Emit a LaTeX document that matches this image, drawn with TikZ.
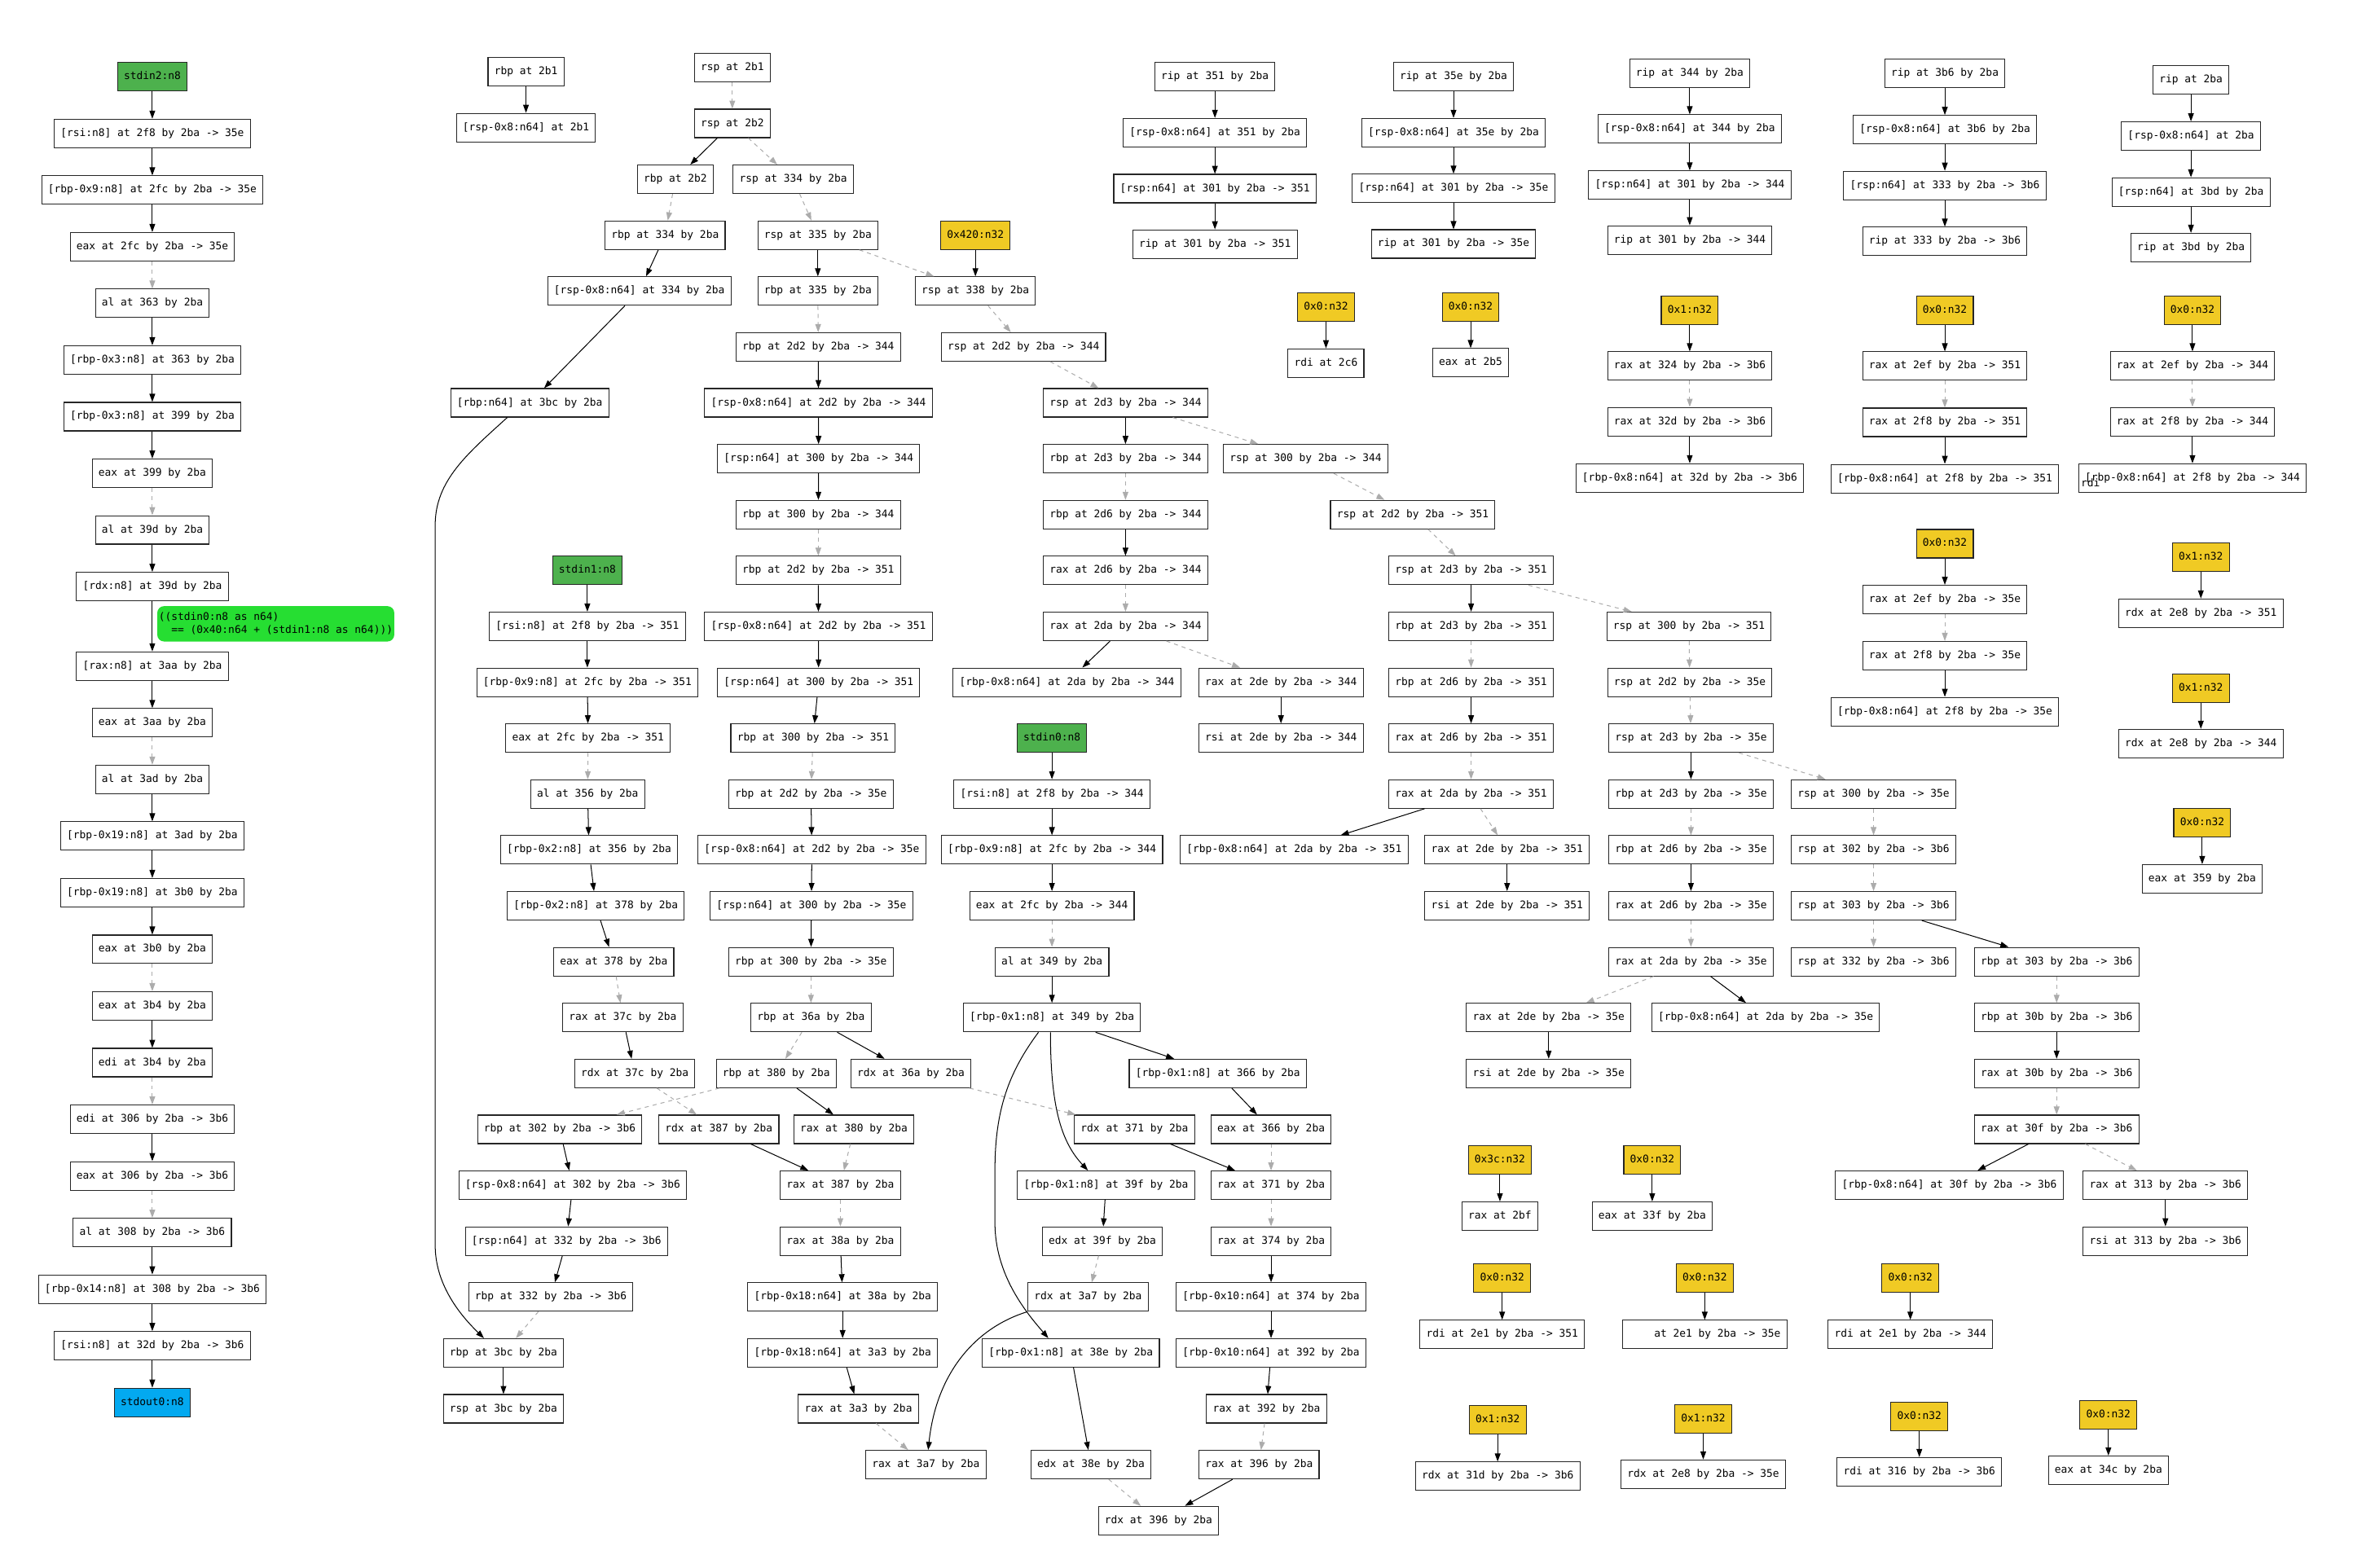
\documentclass[tikz,border=0pt]{standalone}
\usepackage{fontspec}
\newfontfamily\gvmono{DejaVu Sans Mono}
\usetikzlibrary{arrows.meta}
\definecolor{cyel}{RGB}{240,202,36}
\definecolor{cgrn}{RGB}{77,177,77}
\definecolor{cblu}{RGB}{3,169,240}
\definecolor{clab}{RGB}{38,222,50}
\definecolor{cdash}{RGB}{172,172,172}
\begin{document}
\begin{tikzpicture}[x=1pt,y=-1pt,
  box/.style={draw=black!85,line width=0.6pt,fill=white,font=\gvmono\fontsize{7}{8.7}\selectfont,
    inner xsep=4.2pt,inner ysep=0pt,minimum height=19pt,text height=5.3pt,text depth=1.5pt},
  yel/.style={box,fill=cyel},
  grn/.style={box,fill=cgrn},
  blu/.style={box,fill=cblu},
  lab/.style={fill=clab,rounded corners=4.5pt,font=\gvmono\fontsize{7}{8.7}\selectfont,
    inner xsep=1pt,inner ysep=4.3pt,align=left},
  sol/.style={-{Triangle[length=5.4pt,width=3.8pt]},line width=0.55pt,black},
  dsh/.style={-{Triangle[length=5.4pt,width=3.8pt]},line width=0.55pt,cdash,dash pattern=on 2.7pt off 2.7pt},
]
\useasboundingbox (0,0) rectangle (1568,1045);
\fill[white] (0,0) rectangle (1568,1045);

% ---------------- column 1 ----------------
\node[grn] (c1a) at (101.5,51.2) {stdin2:n8};
\node[box] (c1b) at (101.5,88.95) {[rsi:n8] at 2f8 by 2ba -> 35e};
\node[box] (c1c) at (101.5,126.7) {[rbp-0x9:n8] at 2fc by 2ba -> 35e};
\node[box] (c1d) at (101.5,164.45) {eax at 2fc by 2ba -> 35e};
\node[box] (c1e) at (101.5,202.2) {al at 363 by 2ba};
\node[box] (c1f) at (101.5,239.95) {[rbp-0x3:n8] at 363 by 2ba};
\node[box] (c1g) at (101.5,277.7) {[rbp-0x3:n8] at 399 by 2ba};
\node[box] (c1h) at (101.5,315.45) {eax at 399 by 2ba};
\node[box] (c1i) at (101.5,353.2) {al at 39d by 2ba};
\node[box] (c1j) at (101.5,390.95) {[rdx:n8] at 39d by 2ba};
\node[box] (c1k) at (101.5,444) {[rax:n8] at 3aa by 2ba};
\node[box] (c1l) at (101.5,481.75) {eax at 3aa by 2ba};
\node[box] (c1m) at (101.5,519.5) {al at 3ad by 2ba};
\node[box] (c1n) at (101.5,557.25) {[rbp-0x19:n8] at 3ad by 2ba};
\node[box] (c1o) at (101.5,595) {[rbp-0x19:n8] at 3b0 by 2ba};
\node[box] (c1p) at (101.5,632.75) {eax at 3b0 by 2ba};
\node[box] (c1q) at (101.5,670.5) {eax at 3b4 by 2ba};
\node[box] (c1r) at (101.5,708.25) {edi at 3b4 by 2ba};
\node[box] (c1s) at (101.5,746) {edi at 306 by 2ba -> 3b6};
\node[box] (c1t) at (101.5,783.75) {eax at 306 by 2ba -> 3b6};
\node[box] (c1u) at (101.5,821.5) {al at 308 by 2ba -> 3b6};
\node[box] (c1v) at (101.5,859.25) {[rbp-0x14:n8] at 308 by 2ba -> 3b6};
\node[box] (c1w) at (101.5,897) {[rsi:n8] at 32d by 2ba -> 3b6};
\node[blu] (c1x) at (101.5,934.75) {stdout0:n8};
\node[lab,anchor=west] (lbl) at (104.6,415.8) {((stdin0:n8 as n64)\\\phantom{((}== (0x40:n64 + (stdin1:n8 as n64)))};

\draw[sol] (c1a) -- (c1b);
\draw[sol] (c1b) -- (c1c);
\draw[sol] (c1c) -- (c1d);
\draw[dsh] (c1d) -- (c1e);
\draw[sol] (c1e) -- (c1f);
\draw[sol] (c1f) -- (c1g);
\draw[sol] (c1g) -- (c1h);
\draw[dsh] (c1h) -- (c1i);
\draw[sol] (c1i) -- (c1j);
\draw[sol] (c1j) -- (c1k);
\draw[sol] (c1k) -- (c1l);
\draw[dsh] (c1l) -- (c1m);
\draw[sol] (c1m) -- (c1n);
\draw[sol] (c1n) -- (c1o);
\draw[sol] (c1o) -- (c1p);
\draw[dsh] (c1p) -- (c1q);
\draw[sol] (c1q) -- (c1r);
\draw[dsh] (c1r) -- (c1s);
\draw[sol] (c1s) -- (c1t);
\draw[dsh] (c1t) -- (c1u);
\draw[sol] (c1u) -- (c1v);
\draw[sol] (c1v) -- (c1w);
\draw[sol] (c1w) -- (c1x);

% ---------------- rbp at 2b1 ----------------
\node[box] (rbp2b1) at (350.5,47.8) {rbp at 2b1};
\node[box] (m2b1) at (350.5,85) {[rsp-0x8:n64] at 2b1};
\draw[sol] (rbp2b1) -- (m2b1);

% ---------------- big component ----------------
\node[box] (rsp2b1) at (488,45) {rsp at 2b1};
\node[box] (rsp2b2) at (488,82.25) {rsp at 2b2};
\node[box] (rbp2b2) at (450,119.5) {rbp at 2b2};
\node[box] (rsp334) at (528.6,119.5) {rsp at 334 by 2ba};
\node[box] (rbp334) at (443.2,156.75) {rbp at 334 by 2ba};
\node[box] (rsp335) at (545,156.75) {rsp at 335 by 2ba};
\node[yel] (k420) at (650,156.75) {0x420:n32};
\node[box] (m334) at (426,194) {[rsp-0x8:n64] at 334 by 2ba};
\node[box] (rbp335) at (545,194) {rbp at 335 by 2ba};
\node[box] (rsp338) at (650,194) {rsp at 338 by 2ba};
\node[box] (rbp2d2a) at (545.3,231.25) {rbp at 2d2 by 2ba -> 344};
\node[box] (rsp2d2a) at (682,231.25) {rsp at 2d2 by 2ba -> 344};
\node[box] (rbpm3bc) at (353,268.5) {[rbp:n64] at 3bc by 2ba};
\node[box] (m2d2a) at (545.4,268.5) {[rsp-0x8:n64] at 2d2 by 2ba -> 344};
\node[box] (rsp2d3a) at (750,268.5) {rsp at 2d3 by 2ba -> 344};
\node[box] (ms300a) at (545.5,305.75) {[rsp:n64] at 300 by 2ba -> 344};
\node[box] (rbp2d3a) at (750,305.75) {rbp at 2d3 by 2ba -> 344};
\node[box] (rsp300a) at (870,305.75) {rsp at 300 by 2ba -> 344};
\node[box] (rbp300a) at (545.3,343) {rbp at 300 by 2ba -> 344};
\node[box] (rbp2d6a) at (750,343) {rbp at 2d6 by 2ba -> 344};
\node[box] (rsp2d2b) at (941.4,343) {rsp at 2d2 by 2ba -> 351};
\node[box] (rbp2d2b) at (545.3,380.25) {rbp at 2d2 by 2ba -> 351};
\node[box] (rax2d6a) at (750,380.25) {rax at 2d6 by 2ba -> 344};
\node[box] (rsp2d3b) at (980.3,380.25) {rsp at 2d3 by 2ba -> 351};
\node[grn] (stdin1) at (391.4,380.25) {stdin1:n8};
\node[box] (m2d2b) at (545.4,417.5) {[rsp-0x8:n64] at 2d2 by 2ba -> 351};
\node[box] (rax2daa) at (750,417.5) {rax at 2da by 2ba -> 344};
\node[box] (rsi351) at (391.4,417.5) {[rsi:n8] at 2f8 by 2ba -> 351};
\node[box] (rbp2d3b) at (980.3,417.5) {rbp at 2d3 by 2ba -> 351};
\node[box] (rsp300b) at (1125.5,417.5) {rsp at 300 by 2ba -> 351};
\node[box] (ms300b) at (545.5,454.75) {[rsp:n64] at 300 by 2ba -> 351};
\node[box] (m2daa) at (711,454.75) {[rbp-0x8:n64] at 2da by 2ba -> 344};
\node[box] (rax2dea) at (853.6,454.75) {rax at 2de by 2ba -> 344};
\node[box] (r9351) at (391.4,454.75) {[rbp-0x9:n8] at 2fc by 2ba -> 351};
\node[box] (rbp2d6b) at (980.3,454.75) {rbp at 2d6 by 2ba -> 351};
\node[box] (rsp2d2c) at (1126,454.75) {rsp at 2d2 by 2ba -> 35e};
\node[box] (rbp300b) at (541.8,492) {rbp at 300 by 2ba -> 351};
\node[box] (eax351) at (391.9,492) {eax at 2fc by 2ba -> 351};
\node[grn] (stdin0) at (701,492) {stdin0:n8};
\node[box] (rsi2dea) at (853.6,492) {rsi at 2de by 2ba -> 344};
\node[box] (rax2d6b) at (980.3,492) {rax at 2d6 by 2ba -> 351};
\node[box] (rsp2d3c) at (1126.8,492) {rsp at 2d3 by 2ba -> 35e};
\node[box] (al356) at (391.6,529.25) {al at 356 by 2ba};
\node[box] (rbp2d2c) at (540.4,529.25) {rbp at 2d2 by 2ba -> 35e};
\node[box] (rsi344) at (701,529.25) {[rsi:n8] at 2f8 by 2ba -> 344};
\node[box] (rax2dab) at (980.3,529.25) {rax at 2da by 2ba -> 351};
\node[box] (rbp2d3c) at (1126.8,529.25) {rbp at 2d3 by 2ba -> 35e};
\node[box] (rsp300c) at (1248.5,529.25) {rsp at 300 by 2ba -> 35e};
\node[box] (r2356) at (392.5,566.5) {[rbp-0x2:n8] at 356 by 2ba};
\node[box] (m2d2c) at (541,566.5) {[rsp-0x8:n64] at 2d2 by 2ba -> 35e};
\node[box] (r9344) at (701,566.5) {[rbp-0x9:n8] at 2fc by 2ba -> 344};
\node[box] (m2dab) at (862.4,566.5) {[rbp-0x8:n64] at 2da by 2ba -> 351};
\node[box] (rax2deb) at (1004.3,566.5) {rax at 2de by 2ba -> 351};
\node[box] (rbp2d6c) at (1126.8,566.5) {rbp at 2d6 by 2ba -> 35e};
\node[box] (rsp302) at (1248.5,566.5) {rsp at 302 by 2ba -> 3b6};
\node[box] (r2378) at (397,603.75) {[rbp-0x2:n8] at 378 by 2ba};
\node[box] (ms300c) at (540.7,603.75) {[rsp:n64] at 300 by 2ba -> 35e};
\node[box] (eax344) at (701,603.75) {eax at 2fc by 2ba -> 344};
\node[box] (rsi2deb) at (1004.3,603.75) {rsi at 2de by 2ba -> 351};
\node[box] (rax2d6c) at (1126.8,603.75) {rax at 2d6 by 2ba -> 35e};
\node[box] (rsp303) at (1248.5,603.75) {rsp at 303 by 2ba -> 3b6};
\node[box] (eax378) at (409,641) {eax at 378 by 2ba};
\node[box] (rbp300c) at (540.4,641) {rbp at 300 by 2ba -> 35e};
\node[box] (al349) at (701,641) {al at 349 by 2ba};
\node[box] (rax2dac) at (1126.8,641) {rax at 2da by 2ba -> 35e};
\node[box] (rsp332) at (1248.5,641) {rsp at 332 by 2ba -> 3b6};
\node[box] (rbp303) at (1370.5,641) {rbp at 303 by 2ba -> 3b6};
\node[box] (rax37c) at (415,678.25) {rax at 37c by 2ba};
\node[box] (rbp36a) at (540.4,678.25) {rbp at 36a by 2ba};
\node[box] (r1349) at (701,678.25) {[rbp-0x1:n8] at 349 by 2ba};
\node[box] (rax2dec) at (1032,678.25) {rax at 2de by 2ba -> 35e};
\node[box] (m2dac) at (1176.6,678.25) {[rbp-0x8:n64] at 2da by 2ba -> 35e};
\node[box] (rbp30b) at (1370.5,678.25) {rbp at 30b by 2ba -> 3b6};
\node[box] (rdx37c) at (423,715.5) {rdx at 37c by 2ba};
\node[box] (rbp380) at (517.3,715.5) {rbp at 380 by 2ba};
\node[box] (rdx36a) at (607,715.5) {rdx at 36a by 2ba};
\node[box] (r1366) at (811.5,715.5) {[rbp-0x1:n8] at 366 by 2ba};
\node[box] (rsi2dec) at (1032,715.5) {rsi at 2de by 2ba -> 35e};
\node[box] (rax30b) at (1370.5,715.5) {rax at 30b by 2ba -> 3b6};
\node[box] (rbp302) at (373,752.75) {rbp at 302 by 2ba -> 3b6};
\node[box] (rdx387) at (479,752.75) {rdx at 387 by 2ba};
\node[box] (rax380) at (569,752.75) {rax at 380 by 2ba};
\node[box] (rdx371) at (756,752.75) {rdx at 371 by 2ba};
\node[box] (eax366) at (847,752.75) {eax at 366 by 2ba};
\node[box] (rax30f) at (1370.5,752.75) {rax at 30f by 2ba -> 3b6};
\node[box] (m302) at (381.6,790) {[rsp-0x8:n64] at 302 by 2ba -> 3b6};
\node[box] (rax387) at (560,790) {rax at 387 by 2ba};
\node[box] (r139f) at (737,790) {[rbp-0x1:n8] at 39f by 2ba};
\node[box] (rax371) at (847,790) {rax at 371 by 2ba};
\node[box] (m30f) at (1299,790) {[rbp-0x8:n64] at 30f by 2ba -> 3b6};
\node[box] (rax313) at (1443,790) {rax at 313 by 2ba -> 3b6};
\node[box] (ms332) at (377.5,827.25) {[rsp:n64] at 332 by 2ba -> 3b6};
\node[box] (rax38a) at (560,827.25) {rax at 38a by 2ba};
\node[box] (edx39f) at (734.6,827.25) {edx at 39f by 2ba};
\node[box] (rax374) at (847,827.25) {rax at 374 by 2ba};
\node[box] (rsi313) at (1443,827.25) {rsi at 313 by 2ba -> 3b6};
\node[box] (rbp332) at (367,864.5) {rbp at 332 by 2ba -> 3b6};
\node[box] (m38a) at (561.5,864.5) {[rbp-0x18:n64] at 38a by 2ba};
\node[box] (rdx3a7) at (725,864.5) {rdx at 3a7 by 2ba};
\node[box] (r10374) at (847,864.5) {[rbp-0x10:n64] at 374 by 2ba};
\node[box] (rbp3bc) at (335.5,901.75) {rbp at 3bc by 2ba};
\node[box] (m3a3) at (561.5,901.75) {[rbp-0x18:n64] at 3a3 by 2ba};
\node[box] (r138e) at (713.6,901.75) {[rbp-0x1:n8] at 38e by 2ba};
\node[box] (r10392) at (847,901.75) {[rbp-0x10:n64] at 392 by 2ba};
\node[box] (rsp3bc) at (335.5,939) {rsp at 3bc by 2ba};
\node[box] (rax3a3) at (572,939) {rax at 3a3 by 2ba};
\node[box] (rax392) at (844,939) {rax at 392 by 2ba};
\node[box] (rax3a7) at (617,976.25) {rax at 3a7 by 2ba};
\node[box] (edx38e) at (727,976.25) {edx at 38e by 2ba};
\node[box] (rax396) at (839,976.25) {rax at 396 by 2ba};
\node[box] (rdx396) at (772,1013.5) {rdx at 396 by 2ba};

\draw[dsh] (rsp2b1) -- (rsp2b2);
\draw[sol] (rsp2b2) -- (rbp2b2);
\draw[dsh] (rsp2b2) -- (rsp334);
\draw[dsh] (rbp2b2) -- (rbp334);
\draw[dsh] (rsp334) -- (rsp335);
\draw[sol] (rbp334) -- (m334);
\draw[sol] (rsp335) -- (rbp335);
\draw[dsh] (rsp335) -- (rsp338);
\draw[sol] (k420) -- (rsp338);
\draw[sol] (m334) -- (rbpm3bc);
\draw[dsh] (rbp335) -- (rbp2d2a);
\draw[dsh] (rsp338) -- (rsp2d2a);
\draw[sol] (rbp2d2a) -- (m2d2a);
\draw[dsh] (rsp2d2a) -- (rsp2d3a);
\draw[sol] (m2d2a) -- (ms300a);
\draw[sol] (rsp2d3a) -- (rbp2d3a);
\draw[dsh] (rsp2d3a) -- (rsp300a);
\draw[sol] (ms300a) -- (rbp300a);
\draw[dsh] (rbp2d3a) -- (rbp2d6a);
\draw[dsh] (rsp300a) -- (rsp2d2b);
\draw[dsh] (rbp300a) -- (rbp2d2b);
\draw[sol] (rbp2d6a) -- (rax2d6a);
\draw[dsh] (rsp2d2b) -- (rsp2d3b);
\draw[sol] (rbp2d2b) -- (m2d2b);
\draw[dsh] (rax2d6a) -- (rax2daa);
\draw[sol] (rsp2d3b) -- (rbp2d3b);
\draw[dsh] (rsp2d3b) -- (rsp300b);
\draw[sol] (m2d2b) -- (ms300b);
\draw[sol] (rax2daa) -- (m2daa);
\draw[dsh] (rax2daa) -- (rax2dea);
\draw[dsh] (rbp2d3b) -- (rbp2d6b);
\draw[dsh] (rsp300b) -- (rsp2d2c);
\draw[sol] (ms300b) -- (rbp300b);
\draw[sol] (rax2dea) -- (rsi2dea);
\draw[sol] (rbp2d6b) -- (rax2d6b);
\draw[dsh] (rsp2d2c) -- (rsp2d3c);
\draw[dsh] (rbp300b) -- (rbp2d2c);
\draw[dsh] (rax2d6b) -- (rax2dab);
\draw[sol] (rsp2d3c) -- (rbp2d3c);
\draw[dsh] (rsp2d3c) -- (rsp300c);
\draw[sol] (rbp2d2c) -- (m2d2c);
\draw[sol] (rax2dab) -- (m2dab);
\draw[dsh] (rax2dab) -- (rax2deb);
\draw[dsh] (rbp2d3c) -- (rbp2d6c);
\draw[dsh] (rsp300c) -- (rsp302);
\draw[sol] (m2d2c) -- (ms300c);
\draw[sol] (rax2deb) -- (rsi2deb);
\draw[sol] (rbp2d6c) -- (rax2d6c);
\draw[dsh] (rsp302) -- (rsp303);
\draw[sol] (ms300c) -- (rbp300c);
\draw[dsh] (rax2d6c) -- (rax2dac);
\draw[dsh] (rsp303) -- (rsp332);
\draw[sol] (rsp303) -- (rbp303);
\draw[dsh] (rbp300c) -- (rbp36a);
\draw[dsh] (rax2dac) -- (rax2dec);
\draw[sol] (rax2dac) -- (m2dac);
\draw[dsh] (rbp303) -- (rbp30b);
\draw[dsh] (rbp36a) -- (rbp380);
\draw[sol] (rbp36a) -- (rdx36a);
\draw[sol] (rax2dec) -- (rsi2dec);
\draw[sol] (rbp30b) -- (rax30b);
\draw[dsh] (rbp380) -- (rbp302);
\draw[sol] (rbp380) -- (rax380);
\draw[dsh] (rax30b) -- (rax30f);
\draw[dsh] (rdx36a) -- (rdx371);
\draw[sol] (rax30f) -- (m30f);
\draw[dsh] (rax30f) -- (rax313);
\draw[sol] (rbp302) -- (m302);
\draw[dsh] (rax380) -- (rax387);
\draw[sol] (rdx387) -- (rax387);
\draw[dsh] (rdx37c) -- (rdx387);
\draw[sol] (rax313) -- (rsi313);
\draw[sol] (m302) -- (ms332);
\draw[dsh] (rax387) -- (rax38a);
\draw[sol] (ms332) -- (rbp332);
\draw[sol] (rax38a) -- (m38a);
\draw[dsh] (rbp332) -- (rbp3bc);
\draw[sol] (m38a) -- (m3a3);
\draw[sol] (rbp3bc) -- (rsp3bc);
\draw[sol] (m3a3) -- (rax3a3);
\draw[dsh] (rax3a3) -- (rax3a7);
\draw[sol] (rdx3a7.south west) .. controls (650,885) and (624,915) .. ([xshift=1.5pt]rax3a7.north);
\draw[sol] ([xshift=-15pt]rbpm3bc.south) .. controls (312,302) and (290,320) .. (290,350) -- (290,830) .. controls (290,855) and (305,875) .. ([xshift=-13pt]rbp3bc.north);

% stdin1 chain
\draw[sol] (stdin1) -- (rsi351);
\draw[sol] (rsi351) -- (r9351);
\draw[sol] (r9351) -- (eax351);
\draw[dsh] (eax351) -- (al356);
\draw[sol] (al356) -- (r2356);
\draw[sol] (r2356) -- (r2378);
\draw[sol] (r2378) -- (eax378);
\draw[dsh] (eax378) -- (rax37c);
\draw[sol] (rax37c) -- (rdx37c);

% stdin0 chain
\draw[sol] (stdin0) -- (rsi344);
\draw[sol] (rsi344) -- (r9344);
\draw[sol] (r9344) -- (eax344);
\draw[dsh] (eax344) -- (al349);
\draw[sol] (al349) -- (r1349);
\draw[sol] (r1349) -- (r1366);
\draw[sol] ([xshift=-1pt]r1349.south) .. controls (700,740) and (708,762) .. ([xshift=-12pt]r139f.north);
\draw[sol] ([xshift=-9pt]r1349.south) .. controls (672,715) and (663,740) .. (663,780) -- (663,815) .. controls (663,850) and (684,875) .. ([xshift=-15pt]r138e.north);
\draw[sol] (r1366) -- (eax366);
\draw[dsh] (eax366) -- (rax371);
\draw[sol] (rdx371) -- (rax371);
\draw[dsh] (rax371) -- (rax374);
\draw[sol] (rax374) -- (r10374);
\draw[sol] (r10374) -- (r10392);
\draw[sol] (r10392) -- (rax392);
\draw[dsh] (rax392) -- (rax396);
\draw[sol] (rax396) -- (rdx396);
\draw[sol] (r139f) -- (edx39f);
\draw[dsh] (edx39f) -- (rdx3a7);
\draw[sol] (r138e) -- (edx38e);
\draw[dsh] (edx38e) -- (rdx396);

% ---------------- rip chains ----------------
\node[box] (rip351) at (809.6,51.2) {rip at 351 by 2ba};
\node[box] (m351) at (809.6,88.4) {[rsp-0x8:n64] at 351 by 2ba};
\node[box] (ms301a) at (809.6,125.7) {[rsp:n64] at 301 by 2ba -> 351};
\node[box] (rip301a) at (809.6,162.7) {rip at 301 by 2ba -> 351};
\draw[sol] (rip351) -- (m351);
\draw[sol] (m351) -- (ms301a);
\draw[sol] (ms301a) -- (rip301a);

\node[box] (rip35e) at (968.6,51.2) {rip at 35e by 2ba};
\node[box] (m35e) at (968.6,88.4) {[rsp-0x8:n64] at 35e by 2ba};
\node[box] (ms301b) at (968.6,125.6) {[rsp:n64] at 301 by 2ba -> 35e};
\node[box] (rip301b) at (968.6,162.6) {rip at 301 by 2ba -> 35e};
\draw[sol] (rip35e) -- (m35e);
\draw[sol] (m35e) -- (ms301b);
\draw[sol] (ms301b) -- (rip301b);

\node[box] (rip344) at (1126,48.7) {rip at 344 by 2ba};
\node[box] (m344) at (1126,86) {[rsp-0x8:n64] at 344 by 2ba};
\node[box] (ms301c) at (1126,123.4) {[rsp:n64] at 301 by 2ba -> 344};
\node[box] (rip301c) at (1126,160) {rip at 301 by 2ba -> 344};
\draw[sol] (rip344) -- (m344);
\draw[sol] (m344) -- (ms301c);
\draw[sol] (ms301c) -- (rip301c);

\node[box] (rip3b6) at (1296,48.9) {rip at 3b6 by 2ba};
\node[box] (m3b6) at (1296,86.4) {[rsp-0x8:n64] at 3b6 by 2ba};
\node[box] (ms333) at (1296,123.6) {[rsp:n64] at 333 by 2ba -> 3b6};
\node[box] (rip333) at (1296,160.9) {rip at 333 by 2ba -> 3b6};
\draw[sol] (rip3b6) -- (m3b6);
\draw[sol] (m3b6) -- (ms333);
\draw[sol] (ms333) -- (rip333);

\node[box] (rip2ba) at (1460,53.2) {rip at 2ba};
\node[box] (m2ba) at (1460,90.7) {[rsp-0x8:n64] at 2ba};
\node[box] (ms3bd) at (1460,128) {[rsp:n64] at 3bd by 2ba};
\node[box] (rip3bd) at (1460,165) {rip at 3bd by 2ba};
\draw[sol] (rip2ba) -- (m2ba);
\draw[sol] (m2ba) -- (ms3bd);
\draw[sol] (ms3bd) -- (rip3bd);

% ---------------- constants ----------------
\node[yel] (k0a) at (883.6,204.8) {0x0:n32};
\node[box] (rdi2c6) at (883.6,242) {rdi at 2c6};
\draw[sol] (k0a) -- (rdi2c6);
\node[yel] (k0b) at (980,204.5) {0x0:n32};
\node[box] (eax2b5) at (980,241.8) {eax at 2b5};
\draw[sol] (k0b) -- (eax2b5);

\node[yel] (k1a) at (1126,206.8) {0x1:n32};
\node[box] (rax324) at (1126,244) {rax at 324 by 2ba -> 3b6};
\node[box] (rax32d) at (1126,281) {rax at 32d by 2ba -> 3b6};
\node[box] (m32d) at (1126,318.6) {[rbp-0x8:n64] at 32d by 2ba -> 3b6};
\draw[sol] (k1a) -- (rax324);
\draw[dsh] (rax324) -- (rax32d);
\draw[sol] (rax32d) -- (m32d);

\node[yel] (k0c) at (1296,207) {0x0:n32};
\node[box] (rax2efa) at (1296,244) {rax at 2ef by 2ba -> 351};
\node[box] (rax2f8a) at (1296,281.5) {rax at 2f8 by 2ba -> 351};
\node[box] (m2f8a) at (1296,319) {[rbp-0x8:n64] at 2f8 by 2ba -> 351};
\draw[sol] (k0c) -- (rax2efa);
\draw[dsh] (rax2efa) -- (rax2f8a);
\draw[sol] (rax2f8a) -- (m2f8a);

\node[yel] (k0d) at (1461,206.8) {0x0:n32};
\node[box] (rax2efb) at (1461,244) {rax at 2ef by 2ba -> 344};
\node[box] (rax2f8b) at (1461,281) {rax at 2f8 by 2ba -> 344};
\node[box] (m2f8b) at (1461,318.6) {[rbp-0x8:n64] at 2f8 by 2ba -> 344};
\node[font=\gvmono\fontsize{7}{8.7}\selectfont,inner sep=0pt] (strayrdi) at (1393,321.8) {rdi};
\draw[sol] (k0d) -- (rax2efb);
\draw[dsh] (rax2efb) -- (rax2f8b);
\draw[sol] (rax2f8b) -- (m2f8b);

\node[yel] (k0e) at (1296,362.4) {0x0:n32};
\node[box] (rax2efc) at (1296,399.6) {rax at 2ef by 2ba -> 35e};
\node[box] (rax2f8c) at (1296,437) {rax at 2f8 by 2ba -> 35e};
\node[box] (m2f8c) at (1296,474.3) {[rbp-0x8:n64] at 2f8 by 2ba -> 35e};
\draw[sol] (k0e) -- (rax2efc);
\draw[dsh] (rax2efc) -- (rax2f8c);
\draw[sol] (rax2f8c) -- (m2f8c);

\node[yel] (k1b) at (1466.6,371.5) {0x1:n32};
\node[box] (rdx2e8a) at (1466.6,408.7) {rdx at 2e8 by 2ba -> 351};
\draw[sol] (k1b) -- (rdx2e8a);
\node[yel] (k1c) at (1466.6,458.8) {0x1:n32};
\node[box] (rdx2e8b) at (1466.6,495.6) {rdx at 2e8 by 2ba -> 344};
\draw[sol] (k1c) -- (rdx2e8b);
\node[yel] (k0f) at (1467.5,548.4) {0x0:n32};
\node[box] (eax359) at (1467.5,585.8) {eax at 359 by 2ba};
\draw[sol] (k0f) -- (eax359);

\node[yel] (k3c) at (999.5,773.3) {0x3c:n32};
\node[box] (rax2bf) at (999.5,810.6) {rax at 2bf};
\draw[sol] (k3c) -- (rax2bf);
\node[yel] (k0g) at (1101,773.3) {0x0:n32};
\node[box] (eax33f) at (1101,810.6) {eax at 33f by 2ba};
\draw[sol] (k0g) -- (eax33f);

\node[yel] (k0h) at (1001,852) {0x0:n32};
\node[box] (rdi2e1a) at (1001,889.5) {rdi at 2e1 by 2ba -> 351};
\draw[sol] (k0h) -- (rdi2e1a);
\node[yel] (k0i) at (1136,852) {0x0:n32};
\node[box] (at2e1) at (1136,889.5) {\phantom{rdi} at 2e1 by 2ba -> 35e};
\draw[sol] (k0i) -- (at2e1);
\node[yel] (k0j) at (1273,852) {0x0:n32};
\node[box] (rdi2e1b) at (1273,889.5) {rdi at 2e1 by 2ba -> 344};
\draw[sol] (k0j) -- (rdi2e1b);

\node[yel] (k1d) at (998,946.5) {0x1:n32};
\node[box] (rdx31d) at (998,984) {rdx at 31d by 2ba -> 3b6};
\draw[sol] (k1d) -- (rdx31d);
\node[yel] (k1e) at (1135,946) {0x1:n32};
\node[box] (rdx2e8c) at (1135,982.6) {rdx at 2e8 by 2ba -> 35e};
\draw[sol] (k1e) -- (rdx2e8c);
\node[yel] (k0k) at (1279,944.2) {0x0:n32};
\node[box] (rdi316) at (1279,981) {rdi at 316 by 2ba -> 3b6};
\draw[sol] (k0k) -- (rdi316);
\node[yel] (k0l) at (1405,943) {0x0:n32};
\node[box] (eax34c) at (1405,980) {eax at 34c by 2ba};
\draw[sol] (k0l) -- (eax34c);
\end{tikzpicture}
\end{document}
